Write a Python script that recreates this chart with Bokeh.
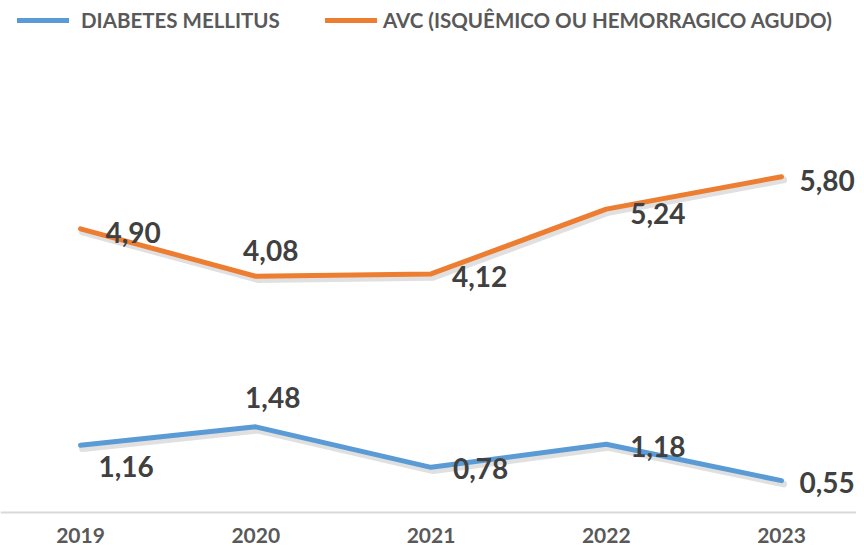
from bokeh.plotting import figure
from bokeh.models import ColumnDataSource, Range1d, Legend, LegendItem, Span
from bokeh.transform import dodge
from bokeh.core.properties import value
from bokeh.embed import file_html
from bokeh.resources import INLINE

# ---- data ----
years = [2019, 2020, 2021, 2022, 2023]
year_labels = ["2019", "2020", "2021", "2022", "2023"]
diabetes = [1.16, 1.48, 0.78, 1.18, 0.55]
avc = [4.90, 4.08, 4.12, 5.24, 5.80]
diabetes_labels = ["1,16", "1,48", "0,78", "1,18", "0,55"]
avc_labels = ["4,90", "4,08", "4,12", "5,24", "5,80"]
series_names = ["DIABETES MELLITUS", "AVC (ISQUÊMICO OU HEMORRAGICO AGUDO)"]

# ---- label placement (screen px) ----
diab_dx = [18, 17, 22, 24, 18]
diab_dy = [21, -29, 1, 2, 2]
diab_align = ["left", "center", "left", "left", "left"]
avc_dx = [25, 15, 21, 24, 18]
avc_dy = [4, -26, 3, 4, 4]
avc_align = ["left", "center", "left", "left", "left"]

BLUE = "#5B9BD5"
ORANGE = "#ED7D31"
FONT = "Lato"

p = figure(width=856, height=549, output_backend="svg", toolbar_location=None,
           x_range=Range1d(2019 - 0.4565, 2019 + 4.4280),
           y_range=Range1d(-0.639, 8.843),
           x_axis_location=None, y_axis_location=None,
           min_border=0)
p.outline_line_color = None
p.xgrid.visible = False
p.ygrid.visible = False
p.background_fill_color = "white"

# category axis line
p.add_layout(Span(location=0, dimension="width", line_color="#d9d9d9", line_width=2))

src_d = ColumnDataSource(dict(x=years, y=diabetes, t=diabetes_labels, dx=diab_dx, dy=diab_dy, al=diab_align))
src_a = ColumnDataSource(dict(x=years, y=avc, t=avc_labels, dx=avc_dx, dy=avc_dy, al=avc_align))

# soft shadows
for src in (src_d, src_a):
    p.line(x=dodge("x", 0.012, range=p.x_range), y=dodge("y", -0.055, range=p.y_range), source=src,
           line_color="black", line_alpha=0.12, line_width=7, line_cap="round", line_join="round")

r_d = p.line("x", "y", source=src_d, line_color=BLUE, line_width=5, line_cap="round", line_join="round")
r_a = p.line("x", "y", source=src_a, line_color=ORANGE, line_width=5, line_cap="round", line_join="round")

for src in (src_d, src_a):
    p.text("x", "y", text="t", source=src, x_offset="dx", y_offset="dy", text_align="al",
           text_baseline="middle", text_font=value(FONT), text_font_style="bold",
           text_font_size="28px", text_color="#404040")

# category (year) labels under the axis line
src_y = ColumnDataSource(dict(x=years, y=[0] * len(years), t=year_labels))
p.text("x", "y", text="t", source=src_y, y_offset=23, text_align="center",
       text_baseline="middle", text_font=value(FONT), text_font_style="bold",
       text_font_size="21px", text_color="#595959")

# legends
def make_legend(name, r, x, standoff):
    return Legend(items=[LegendItem(label=name, renderers=[r])], location=(x, 517),
                  orientation="horizontal", padding=0, margin=0, spacing=0,
                  glyph_width=52, glyph_height=20, label_height=20, label_standoff=standoff,
                  border_line_color=None, background_fill_alpha=0,
                  label_text_font=FONT, label_text_font_style="bold",
                  label_text_font_size="20.5px", label_text_color="#595959")

p.add_layout(make_legend(series_names[0], r_d, 17, 12))
p.add_layout(make_legend(series_names[1], r_a, 325, 6))

open("out.html", "w").write(file_html(p, INLINE))
